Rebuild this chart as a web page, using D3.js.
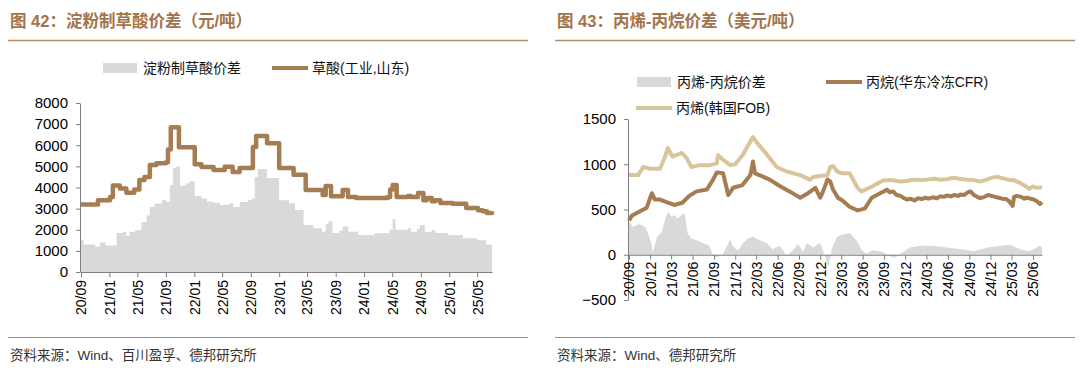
<!DOCTYPE html>
<meta charset="utf-8">
<head>
<script src="https://d3js.org/d3.v7.min.js"></script>
<style>
body { margin: 0; background: #fff; }
svg text { font-family: "Liberation Sans", Arial, "Noto Sans CJK SC", sans-serif; }
.axis text { font-family: "Liberation Sans", Arial, sans-serif; }
.axis path, .axis line { stroke: #7f7f7f; }
</style>
</head>
<body>
<script>

// ---------- 图42 data ----------
var oxalicDates = ["2020-09-01","2020-11-13","2021-01-04","2021-01-16","2021-02-15","2021-03-15","2021-04-18","2021-05-10","2021-06-01","2021-06-24","2021-07-22","2021-09-01","2021-09-10","2021-09-22","2021-10-27","2022-01-03","2022-02-01","2022-03-25","2022-05-12","2022-06-15","2022-07-15","2022-09-10","2022-09-24","2022-11-10","2023-01-01","2023-03-04","2023-04-25","2023-07-07","2023-07-20","2023-08-12","2023-10-01","2023-10-24","2023-11-28","2024-04-12","2024-04-22","2024-05-03","2024-05-20","2024-07-08","2024-07-20","2024-08-20","2024-09-12","2024-09-27","2024-10-18","2024-11-02","2024-11-24","2025-01-15","2025-03-15","2025-05-05","2025-05-25","2025-06-12","2025-07-04"];
var oxalicPrice = [3200,3400,3550,4100,3950,3750,3900,4350,4500,5070,5150,5200,5800,6850,5900,5100,4970,4830,4980,4730,4920,5920,6440,6100,4920,4600,3880,3650,4070,3580,3880,3550,3500,3550,3900,4120,3550,3600,3550,3740,3400,3500,3350,3400,3270,3230,3030,2920,2870,2790,2870];

var starchDates = ["2020-09-01","2020-09-12","2020-11-01","2020-11-21","2020-12-16","2021-02-01","2021-02-28","2021-03-15","2021-03-28","2021-04-22","2021-05-19","2021-06-10","2021-06-24","2021-07-14","2021-08-15","2021-09-03","2021-09-18","2021-10-01","2021-10-15","2021-11-01","2021-11-25","2021-12-12","2022-01-03","2022-02-01","2022-02-25","2022-03-25","2022-04-21","2022-05-15","2022-06-03","2022-06-18","2022-07-15","2022-08-20","2022-09-06","2022-09-18","2022-10-01","2022-11-10","2023-01-01","2023-02-12","2023-03-10","2023-04-16","2023-05-28","2023-07-04","2023-07-20","2023-08-01","2023-08-18","2023-09-16","2023-10-01","2023-10-25","2023-12-06","2024-02-15","2024-04-01","2024-04-20","2024-05-03","2024-05-15","2024-07-08","2024-07-20","2024-08-15","2024-08-28","2024-09-18","2024-10-18","2024-11-02","2024-12-25","2025-03-01","2025-05-01","2025-06-08","2025-07-04"];
var starchSpread = [1500,1300,1200,1400,1250,1850,1900,1700,1900,1980,2370,2680,3080,3240,3400,3330,4120,4920,5000,4100,4200,4300,3600,3480,3330,3280,3170,3200,3260,3080,3310,3400,3480,4500,4870,4450,3400,3250,2940,2220,2070,1910,2280,2400,1850,1950,2150,1900,1750,1840,1850,2000,2500,2000,2080,1900,2050,2220,1900,2000,1850,1750,1600,1500,1300,1250];

var leftTicksY = [0,1000,2000,3000,4000,5000,6000,7000,8000];

// ---------- 图43 data ----------
var propyleneDates = ["2020-09-01","2020-10-10","2020-11-01","2020-12-01","2021-01-12","2021-02-03","2021-02-15","2021-03-06","2021-04-15","2021-05-06","2021-05-27","2021-07-01","2021-08-13","2021-09-13","2021-09-18","2021-10-10","2021-11-10","2021-12-01","2022-01-04","2022-02-15","2022-03-04","2022-04-15","2022-05-28","2022-07-10","2022-09-06","2022-10-18","2022-11-01","2022-12-01","2023-01-01","2023-01-13","2023-01-25","2023-02-12","2023-03-06","2023-04-06","2023-05-10","2023-05-28","2023-07-15","2023-08-28","2023-10-01","2023-11-10","2023-12-10","2024-01-04","2024-02-10","2024-03-04","2024-04-05","2024-04-28","2024-05-28","2024-06-25","2024-07-20","2024-08-22","2024-09-20","2024-10-18","2024-11-15","2024-12-10","2025-01-01","2025-02-12","2025-03-10","2025-04-06","2025-05-18","2025-06-01","2025-06-18","2025-07-10"];
var propyleneFOB = [880,880,970,950,950,1085,1180,1085,1125,1070,970,990,990,1010,1100,1050,990,1000,1110,1300,1240,1110,970,920,880,830,860,870,880,970,980,920,900,900,740,700,760,820,825,810,815,830,825,830,840,830,835,850,840,830,825,810,830,855,860,830,825,795,730,755,740,745];

var propaneDates = ["2020-09-01","2020-09-13","2020-10-10","2020-11-16","2020-12-08","2020-12-21","2021-01-12","2021-02-12","2021-03-15","2021-04-18","2021-05-18","2021-06-18","2021-08-01","2021-08-28","2021-09-13","2021-10-10","2021-11-01","2021-11-22","2022-01-01","2022-02-04","2022-02-15","2022-02-24","2022-03-15","2022-04-28","2022-06-10","2022-07-22","2022-09-06","2022-10-04","2022-11-10","2022-12-01","2022-12-13","2023-01-01","2023-01-13","2023-01-25","2023-02-15","2023-03-06","2023-04-06","2023-05-10","2023-06-10","2023-07-10","2023-08-15","2023-09-01","2023-09-13","2023-09-25","2023-10-10","2023-10-25","2023-11-10","2023-11-25","2023-12-10","2023-12-22","2024-01-10","2024-01-25","2024-02-10","2024-02-25","2024-03-10","2024-03-28","2024-04-15","2024-04-28","2024-05-15","2024-05-28","2024-06-15","2024-06-28","2024-07-15","2024-07-25","2024-08-10","2024-08-25","2024-09-06","2024-09-20","2024-10-05","2024-10-18","2024-11-05","2024-11-20","2024-12-05","2024-12-20","2025-01-05","2025-01-20","2025-02-05","2025-02-15","2025-03-01","2025-03-06","2025-03-12","2025-03-24","2025-04-10","2025-04-25","2025-05-06","2025-05-20","2025-06-04","2025-06-18","2025-07-01","2025-07-10"];
var propaneCFR = [380,430,470,520,680,610,610,580,550,575,650,700,720,830,910,900,660,740,770,880,1030,900,880,830,760,700,630,670,740,630,700,830,810,720,630,600,530,490,510,630,680,700,720,690,700,660,650,625,610,620,600,625,615,630,620,635,625,645,640,655,645,660,650,665,660,690,700,660,640,625,640,660,650,640,630,620,615,600,560,540,640,650,640,620,630,620,610,590,560,580];

var spreadDates = ["2020-09-01","2020-09-18","2020-10-17","2020-11-08","2020-11-21","2020-12-08","2020-12-12","2020-12-30","2021-01-20","2021-02-03","2021-02-15","2021-03-03","2021-03-15","2021-03-28","2021-04-15","2021-04-28","2021-05-10","2021-05-27","2021-06-18","2021-07-14","2021-08-13","2021-08-28","2021-09-13","2021-10-10","2021-11-10","2021-11-22","2021-12-13","2022-01-04","2022-01-25","2022-02-15","2022-03-15","2022-04-15","2022-05-10","2022-06-10","2022-07-10","2022-08-06","2022-08-28","2022-09-18","2022-10-04","2022-11-01","2022-11-22","2022-12-01","2022-12-22","2023-01-04","2023-01-22","2023-02-12","2023-03-06","2023-04-06","2023-05-06","2023-05-28","2023-06-18","2023-07-15","2023-08-28","2023-09-28","2023-10-18","2023-11-10","2023-12-22","2024-02-04","2024-03-28","2024-05-28","2024-07-25","2024-09-18","2024-11-18","2025-01-13","2025-02-25","2025-04-06","2025-05-18","2025-07-01","2025-07-10"];
var spreadValues = [365,310,340,310,240,110,20,200,250,390,475,420,440,400,440,460,240,180,160,130,100,-10,-30,10,170,90,50,130,180,200,160,130,60,100,-10,50,120,30,130,80,120,130,-20,-130,80,200,220,240,160,50,10,50,30,-20,-30,10,80,100,100,80,60,40,80,100,110,60,40,100,80];

var rightTicksY = [-500,0,500,1000,1500];

// ---------- colours ----------
var titleColor = "#a3734a",
    ruleColor = "#b98d66",
    grayFill = "#d9d9d9",
    brown = "#a67c52",
    beige = "#d8c59c";

var parse = d3.timeParse("%Y-%m-%d"),
    fmt = d3.timeFormat("%y/%m");

var svg = d3.select("body").append("svg")
    .attr("width", 1080)
    .attr("height", 386);

// frame: title, rules, source
function frame(x0, x1, title, source) {
  svg.append("text")
      .attr("x", x0 + 2).attr("y", 27)
      .attr("fill", titleColor)
      .style("font-size", "16.5px").style("font-weight", "bold")
      .text(title);
  svg.append("line").attr("x1", x0).attr("x2", x1).attr("y1", 40.5).attr("y2", 40.5)
      .attr("stroke", ruleColor).attr("stroke-width", 1.5);
  svg.append("line").attr("x1", x0).attr("x2", x1).attr("y1", 337.5).attr("y2", 337.5)
      .attr("stroke", ruleColor).attr("stroke-width", 1.2);
  svg.append("text")
      .attr("x", x0 + 2).attr("y", 360)
      .attr("fill", "#333")
      .style("font-size", "13.5px")
      .text(source);
}

frame(8, 528, "图 42：淀粉制草酸价差（元/吨）", "资料来源：Wind、百川盈孚、德邦研究所");
frame(555, 1075, "图 43：丙烯-丙烷价差（美元/吨）", "资料来源：Wind、德邦研究所");

function legendItem(x, y, kind, color, label) {
  if (kind == "rect") {
    svg.append("rect").attr("x", x).attr("y", y - 5).attr("width", 34).attr("height", 10).attr("fill", color);
  } else {
    svg.append("line").attr("x1", x).attr("x2", x + 36).attr("y1", y).attr("y2", y)
        .attr("stroke", color).attr("stroke-width", 4);
  }
  svg.append("text").attr("x", x + 40).attr("y", y + 5)
      .style("font-size", "14px").attr("fill", "#111").text(label);
}

// ================= 图42 =================
var xL = d3.scaleTime()
    .domain([parse("2020-09-01"), parse("2025-07-04")])
    .range([81, 492]);
var yL = d3.scaleLinear().domain([0, 8000]).range([272, 103]);

var starch = starchDates.map(function(d, i) { return {date: parse(d), value: starchSpread[i]}; });
var oxalic = oxalicDates.map(function(d, i) { return {date: parse(d), value: oxalicPrice[i]}; });

svg.append("path")
    .datum(starch)
    .attr("fill", grayFill)
    .attr("d", d3.area().curve(d3.curveStepAfter)
        .x(function(d) { return xL(d.date); })
        .y0(yL(0))
        .y1(function(d) { return yL(d.value); }));

svg.append("path")
    .datum(oxalic)
    .attr("fill", "none")
    .attr("stroke", brown)
    .attr("stroke-width", 4.5)
    .attr("stroke-linejoin", "round")
    .attr("d", d3.line().curve(d3.curveStepAfter)
        .x(function(d) { return xL(d.date); })
        .y(function(d) { return yL(d.value); }));

svg.append("g").attr("class", "axis")
    .attr("transform", "translate(80,0)")
    .call(d3.axisLeft(yL).tickValues(leftTicksY).tickFormat(d3.format("d"))
        .tickSize(4).tickSizeOuter(0).tickPadding(8))
    .call(function(g) {
      g.selectAll("text").style("font-size", "15px").attr("fill", "#000");
    });

var xAxisL = svg.append("g").attr("class", "axis")
    .attr("transform", "translate(0,272)")
    .call(d3.axisBottom(xL)
        .tickValues(d3.timeMonth.range(parse("2020-09-01"), parse("2025-07-02"), 4))
        .tickFormat(fmt).tickSize(5).tickSizeOuter(0));
xAxisL.selectAll("text")
    .style("font-size", "14px").attr("fill", "#000")
    .attr("transform", "rotate(-90)")
    .attr("text-anchor", "end")
    .attr("x", -8).attr("y", 0).attr("dy", "0.35em");

legendItem(103, 68, "rect", grayFill, "淀粉制草酸价差");
legendItem(272, 68, "line", brown, "草酸(工业,山东)");

// ================= 图43 =================
var xR = d3.scaleTime()
    .domain([parse("2020-09-01"), parse("2025-07-10")])
    .range([629, 1042]);
var yR = d3.scaleLinear().domain([-500, 1500]).range([300, 119]);

var spread = spreadDates.map(function(d, i) { return {date: parse(d), value: spreadValues[i]}; });
var propane = propaneDates.map(function(d, i) { return {date: parse(d), value: propaneCFR[i]}; });
var propylene = propyleneDates.map(function(d, i) { return {date: parse(d), value: propyleneFOB[i]}; });

svg.append("path")
    .datum(spread)
    .attr("fill", grayFill)
    .attr("d", d3.area()
        .x(function(d) { return xR(d.date); })
        .y0(yR(0))
        .y1(function(d) { return yR(d.value); }));

var lineR = d3.line()
    .x(function(d) { return xR(d.date); })
    .y(function(d) { return yR(d.value); });

svg.append("path").datum(propylene)
    .attr("fill", "none").attr("stroke", beige).attr("stroke-width", 4)
    .attr("stroke-linejoin", "round").attr("d", lineR);

svg.append("path").datum(propane)
    .attr("fill", "none").attr("stroke", brown).attr("stroke-width", 4)
    .attr("stroke-linejoin", "round").attr("d", lineR);

svg.append("g").attr("class", "axis")
    .attr("transform", "translate(628,0)")
    .call(d3.axisLeft(yR).tickValues(rightTicksY).tickFormat(d3.format("d"))
        .tickSize(4).tickSizeOuter(0).tickPadding(8))
    .call(function(g) {
      g.selectAll("text").style("font-size", "15px").attr("fill", "#000");
    });

var xAxisR = svg.append("g").attr("class", "axis")
    .attr("transform", "translate(0," + yR(0) + ")")
    .call(d3.axisBottom(xR)
        .tickValues(d3.timeMonth.range(parse("2020-09-01"), parse("2025-07-02"), 3))
        .tickFormat(fmt).tickSize(5).tickSizeOuter(0));
xAxisR.selectAll("text")
    .style("font-size", "14px").attr("fill", "#000")
    .attr("transform", "rotate(-90)")
    .attr("text-anchor", "end")
    .attr("x", -7).attr("y", 0).attr("dy", "0.35em");

legendItem(637, 82, "rect", grayFill, "丙烯-丙烷价差");
legendItem(826, 82, "line", brown, "丙烷(华东冷冻CFR)");
legendItem(636, 108, "line", beige, "丙烯(韩国FOB)");

</script>
</body>
